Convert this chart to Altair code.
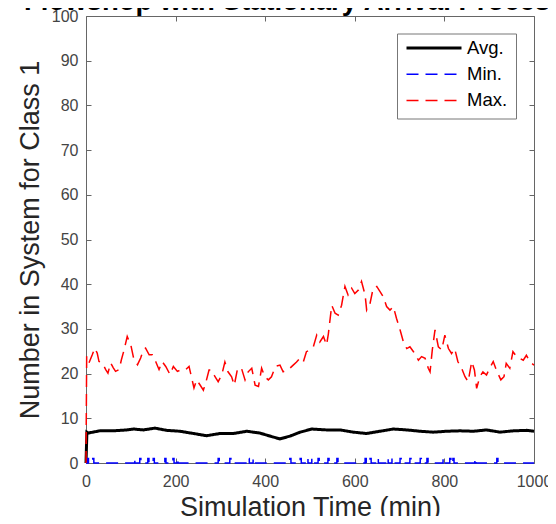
import altair as alt
import pandas as pd

TITLE = "Flowshop with Stationary Arrival Processes"
X_TITLE = "Simulation Time (min)"
Y_TITLE = "Number in System for Class 1"
X_TICKS = [0, 200, 400, 600, 800, 1000]
Y_TICKS = [0, 10, 20, 30, 40, 50, 60, 70, 80, 90, 100]
SERIES = ["Avg.", "Min.", "Max."]
COLORS = ["#000000", "#0000ff", "#ff0000"]

AVG_T = [0, 2, 5, 31, 61, 91, 106, 128, 154, 180, 210, 240, 269, 299, 329, 359, 388,
         418, 433, 455, 478, 504, 537, 567, 597, 626, 656, 686, 716, 746, 775, 805,
         835, 865, 894, 924, 954, 984, 1000]
AVG_V = [0, 6.9, 6.7, 7.2, 7.2, 7.4, 7.6, 7.4, 7.8, 7.3, 7.1, 6.6, 6.1, 6.6, 6.6, 7.1, 6.7,
         5.8, 5.4, 6.0, 6.9, 7.6, 7.4, 7.4, 6.9, 6.6, 7.1, 7.6, 7.4, 7.1, 6.9, 7.1,
         7.2, 7.1, 7.4, 6.9, 7.2, 7.3, 7.1]

MAX_T = [0, 1.5, 6.7, 14, 19.4, 25, 29, 36.5, 44, 49, 55, 61, 66, 74, 79, 85, 92, 100,
         107, 115, 122, 128, 133, 141, 148, 155.5, 163, 170, 178, 187.5, 195, 204, 213,
         222.5, 230, 235, 241,
         247, 255, 262, 269, 274.6, 280.5, 288, 295, 303, 310, 317, 325, 331, 338.5,
         347, 355, 362, 370, 377.5, 385, 392, 399, 407, 414, 423, 433, 440, 448, 455,
         462.5, 470, 477, 485, 492,
         500, 507.5, 515, 522, 530, 537, 541, 548.5, 556, 563, 570.5, 578, 585, 593,
         600, 608, 615, 623, 626.5, 634, 641, 649, 656, 663.5, 671, 678.5, 686, 693,
         701, 708.5, 716, 723, 731,
         742, 749, 757, 764, 768, 773, 779, 786.5, 794, 801, 809, 816, 823, 830, 838.5,
         846, 853, 861, 867, 872, 879, 886, 894, 901, 909, 916, 926, 933, 938, 946,
         953, 961, 968, 976, 983, 991, 1000]
MAX_V = [0, 23.9, 22.4, 24.2, 25.7, 24.6, 22.7, 22.4, 20.9, 20.1, 22.4, 21.3, 20.5, 20.9,
         23.1, 25.3, 28.3, 26.4, 23.1, 22.0, 23.5, 25.3, 25.7, 24.2, 24.2, 22.7, 20.9,
         22.7, 21.6, 19.8, 21.6, 20.5, 20.9, 20.9, 21.6, 19.4, 16.8,
         18.6, 17.4, 16.3, 18.6, 20.8, 20.8, 19.3, 18.2, 19.7, 22.6, 20.4, 19.3, 17.4,
         21.2, 21.2, 18.6, 20.4, 21.2, 17.4, 17.1, 21.2, 19.3, 18.6, 19.3, 21.6, 21.9,
         20.4, 20.8, 21.2, 21.9, 22.6, 23.4, 22.6, 24.9,
         25.3, 26.0, 28.6, 27.1, 28.3, 26.4, 28.9, 35.3, 33.5, 33.1, 35.3, 39.5, 37.6,
         39.1, 37.9, 38.7, 40.6, 37.6, 34.2, 35.7, 39.1, 39.5, 38.4, 37.2, 35.0, 34.2,
         35.0, 32.4, 29.8, 27.1, 25.6, 26.0, 24.9,
         23.0, 23.8, 23.4, 21.2, 20.4, 25.3, 29.8, 26.0, 25.3, 28.6, 25.6, 24.5, 25.6,
         22.7, 21.2, 19.3, 18.2, 22.7, 20.8, 16.7, 19.3, 20.4, 19.7, 21.2, 22.7, 20.8,
         18.6, 19.3, 22.3, 21.2, 24.9, 23.8, 23.4, 23.0, 24.1, 22.6, 21.9]

# times at which the minimum briefly rises to 1
MIN_SPIKES = [3, 15, 109, 120, 138, 150, 176, 194, 203, 295, 321, 362, 373, 455, 478,
              493, 504, 518, 540, 560, 623, 634, 650, 672, 683, 701, 723, 746, 761, 797,
              812, 819, 868, 917]
SPIKE_LEVEL = 1
SPIKE_WIDTH = 2.5

W, H = 448, 447

min_t, min_v = [0], [0]
for s in MIN_SPIKES:
    min_t += [s, s, s + SPIKE_WIDTH, s + SPIKE_WIDTH]
    min_v += [0, SPIKE_LEVEL, SPIKE_LEVEL, 0]
min_t.append(1000)
min_v.append(0)

rows = []
for name, ts, vs in [("Avg.", AVG_T, AVG_V), ("Min.", min_t, min_v), ("Max.", MAX_T, MAX_V)]:
    for i, (t, v) in enumerate(zip(ts, vs)):
        rows.append({"t": t, "v": v, "series": name, "idx": i})
df = pd.DataFrame(rows)

FONT = "Liberation Sans"
LINE_C = "#666666"

xscale = alt.Scale(domain=[0, 1000], nice=False, zero=False)
yscale = alt.Scale(domain=[0, 100], nice=False, zero=False)

legend = alt.Legend(
    title=None, orient="none", legendX=311, legendY=17.5,
    symbolType="stroke", symbolSize=3025, clipHeight=13, rowPadding=7.2,
    padding=8, labelOffset=4, labelFont=FONT, labelFontSize=18.5,
    labelColor="#000000", fillColor="white", strokeColor="#777777",
)

lines = alt.Chart(df).mark_line().encode(
    x=alt.X("t:Q", scale=xscale, axis=alt.Axis(
        orient="bottom", values=X_TICKS, format="d", ticks=False, tickSize=0, grid=False,
        labelFont=FONT, labelFontSize=16, labelColor="#444444", labelPadding=10,
        labelFlush=False, labelOverlap=False, labelBound=False, domainColor=LINE_C,
        title=X_TITLE, titleFont=FONT, titleFontSize=27, titleFontWeight="normal",
        titleColor="#262626", titleX=W / 2, titleY=52, titleBaseline="alphabetic",
        titleAlign="center")),
    y=alt.Y("v:Q", scale=yscale, axis=alt.Axis(
        orient="left", values=Y_TICKS, format="d", ticks=False, tickSize=0, grid=False,
        labelFont=FONT, labelFontSize=16, labelColor="#444444", labelPadding=8,
        labelFlush=False, labelOverlap=False, domainColor=LINE_C,
        title=Y_TITLE, titleFont=FONT, titleFontSize=27, titleFontWeight="normal",
        titleColor="#262626", titleX=-47.5, titleY=H / 2, titleAngle=270,
        titleBaseline="alphabetic", titleAlign="center")),
    color=alt.Color("series:N", scale=alt.Scale(domain=SERIES, range=COLORS), legend=legend),
    strokeDash=alt.StrokeDash("series:N", scale=alt.Scale(
        domain=SERIES, range=[[1, 0], [12, 7], [12, 7]]), legend=legend),
    strokeWidth=alt.StrokeWidth("series:N", scale=alt.Scale(
        type="ordinal", domain=SERIES, range=[3, 1.5, 1.5]), legend=legend),
    order="idx:Q",
)

anchor = pd.DataFrame({"t": [0], "v": [0]})

def tick_axis(orient, values, offset, domain):
    return alt.Axis(orient=orient, values=values, offset=offset, labels=False,
                    domain=domain, domainColor=LINE_C, ticks=True, tickSize=5,
                    tickColor=LINE_C, grid=False, title="")

ticks_a = alt.Chart(anchor).mark_point(opacity=0).encode(
    x=alt.X("t:Q", scale=xscale, axis=tick_axis("top", X_TICKS, -H, False)),
    y=alt.Y("v:Q", scale=yscale, axis=tick_axis("right", Y_TICKS, -W, False)),
)
ticks_b = alt.Chart(anchor).mark_point(opacity=0).encode(
    x=alt.X("t:Q", scale=xscale, axis=tick_axis("bottom", X_TICKS, -H, True)),
    y=alt.Y("v:Q", scale=yscale, axis=tick_axis("left", Y_TICKS, -W, True)),
)

title = alt.Chart(pd.DataFrame({"title": [TITLE]})).mark_text(
    align="center", baseline="alphabetic", font=FONT, fontSize=27.5,
    fontWeight="bold", color="#000000",
).encode(text="title:N", x=alt.value(W / 2), y=alt.value(-6))

chart = alt.layer(ticks_a, ticks_b, lines, title).resolve_axis(
    x="independent", y="independent"
).properties(
    width=W, height=H,
    padding={"left": 78, "top": 8, "right": 14, "bottom": 53},
    autosize=alt.AutoSizeParams(type="none"),
).configure_view(stroke="transparent")

chart.save("out.html", embed_options={"renderer": "svg", "actions": False})
